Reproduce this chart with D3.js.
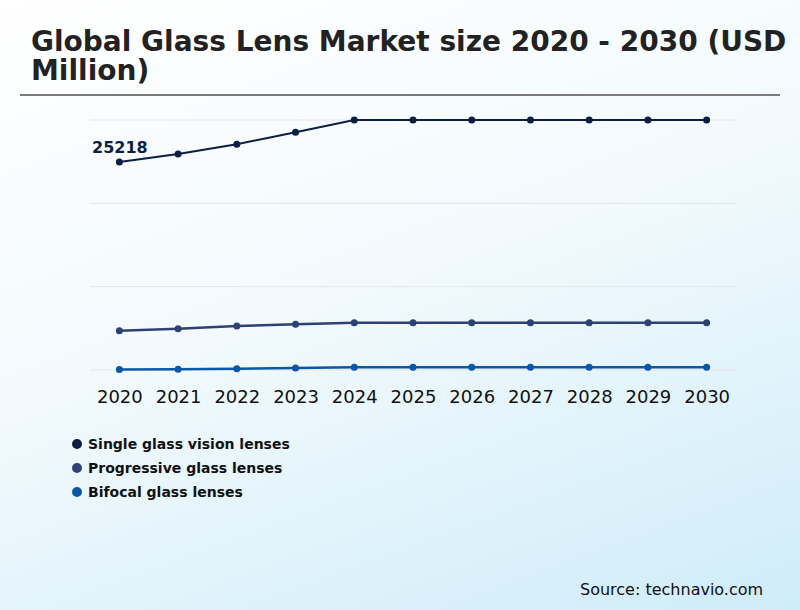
<!DOCTYPE html>
<html>
<head>
<meta charset="utf-8">
<script src="https://cdn.jsdelivr.net/npm/d3@7"></script>
<style>
  html, body { margin: 0; padding: 0; }
  body {
    width: 800px; height: 610px; overflow: hidden;
    background: linear-gradient(160deg, #ffffff 0%, #f3fafd 45%, #cfecf9 100%);
    font-family: "DejaVu Sans", sans-serif;
  }
</style>
</head>
<body>
<svg id="chart" width="800" height="610"></svg>
<script>
// data (USD million)
const years = ["2020", "2021", "2022", "2023", "2024", "2025", "2026", "2027", "2028", "2029", "2030"];
const singleVision = [25218, 26180, 27360, 28810, 30450, 32000, 33600, 35300, 37000, 38800, 40700];
const progressive = [4760, 5010, 5330, 5540, 5730, 5730, 5730, 5730, 5730, 5730, 5730];
const bifocal = [60, 90, 160, 240, 320, 320, 320, 320, 320, 320, 320];
const seriesNames = ["Single glass vision lenses", "Progressive glass lenses", "Bifocal glass lenses"];
const seriesColors = ["#0c1e44", "#2d4173", "#0a57a5"];
const gridValues = [0, 10100, 20200, 30300];

const series = [singleVision, progressive, bifocal];

const svg = d3.select("#chart");

// title
const title = svg.append("text")
    .attr("x", 31)
    .attr("y", 51)
    .attr("font-size", "28px")
    .attr("font-weight", "bold")
    .attr("fill", "#222");
title.append("tspan").attr("x", 31).attr("dy", 0).text("Global Glass Lens Market size 2020 - 2030 (USD");
title.append("tspan").attr("x", 31).attr("dy", 29).text("Million)");

svg.append("line")
    .attr("x1", 20).attr("x2", 780)
    .attr("y1", 95).attr("y2", 95)
    .attr("stroke", "#7a7a7a")
    .attr("stroke-width", 2);

const x = d3.scalePoint()
    .domain(years)
    .range([90, 736])
    .padding(0.5);

const y = d3.scaleLinear()
    .domain([0, 30300])
    .range([370, 120])
    .clamp(true);

// gridlines
svg.append("g")
    .selectAll("line")
    .data(gridValues)
    .join("line")
    .attr("x1", 90).attr("x2", 736)
    .attr("y1", d => y(d)).attr("y2", d => y(d))
    .attr("stroke", "#e3e6e9")
    .attr("stroke-width", 1);

// x axis labels
const xAxis = svg.append("g")
    .attr("transform", "translate(0,385)")
    .call(d3.axisBottom(x).tickSize(0).tickPadding(5));
xAxis.select(".domain").remove();
xAxis.selectAll("text")
    .attr("font-size", "18px")
    .attr("font-family", "DejaVu Sans, sans-serif")
    .attr("fill", "#111");

const line = d3.line()
    .x((d, i) => x(years[i]))
    .y(d => y(d));

series.forEach((vals, s) => {
    svg.append("path")
        .datum(vals)
        .attr("fill", "none")
        .attr("stroke", seriesColors[s])
        .attr("stroke-width", s === 0 ? 2 : 2.5)
        .attr("d", line);

    svg.append("g")
        .selectAll("circle")
        .data(vals)
        .join("circle")
        .attr("cx", (d, i) => x(years[i]))
        .attr("cy", d => y(d))
        .attr("r", 3.5)
        .attr("fill", seriesColors[s]);
});

// first value label
svg.append("text")
    .attr("x", 92)
    .attr("y", 153)
    .attr("font-size", "16px")
    .attr("font-weight", "bold")
    .attr("fill", seriesColors[0])
    .text(singleVision[0]);

// legend
const legend = svg.append("g")
    .selectAll("g")
    .data(seriesNames)
    .join("g")
    .attr("transform", (d, i) => `translate(77,${444 + i * 24})`);
legend.append("circle")
    .attr("r", 5)
    .attr("fill", (d, i) => seriesColors[i]);
legend.append("text")
    .attr("x", 11)
    .attr("y", 5)
    .attr("font-size", "14px")
    .attr("font-weight", "bold")
    .attr("fill", "#111")
    .text(d => d);

// source
svg.append("text")
    .attr("x", 580)
    .attr("y", 595)
    .attr("font-size", "16px")
    .attr("fill", "#111")
    .text("Source: technavio.com");
</script>
</body>
</html>
